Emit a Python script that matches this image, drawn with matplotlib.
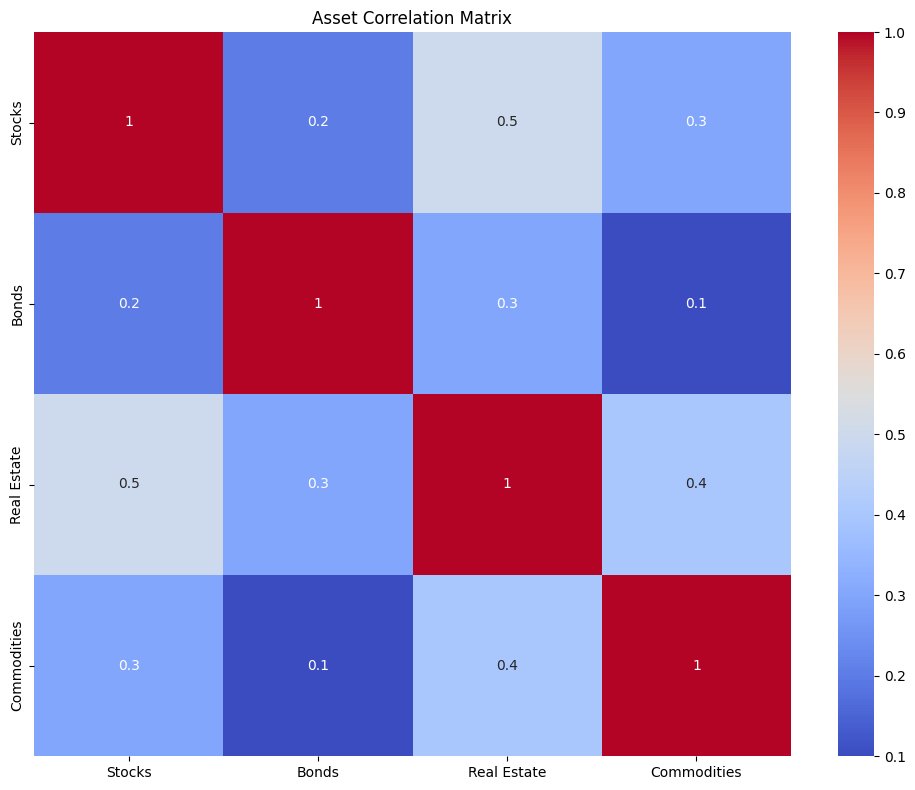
import matplotlib
matplotlib.use("Agg")
import matplotlib.pyplot as plt
import numpy as np
import pandas as pd
import seaborn as sns

# Asset names and correlation values
assets = ["Stocks", "Bonds", "Real Estate", "Commodities"]
stocks = [1.0, 0.2, 0.5, 0.3]
bonds = [0.2, 1.0, 0.3, 0.1]
real_estate = [0.5, 0.3, 1.0, 0.4]
commodities = [0.3, 0.1, 0.4, 1.0]

corr = pd.DataFrame(np.array([stocks, bonds, real_estate, commodities]),
                    index=assets, columns=assets)

W, H = 915, 790
fig = plt.figure(figsize=(W / 100, H / 100), dpi=100)
# place axes to match the reference layout (pixel boxes)
ax = fig.add_axes([34 / W, (H - 756) / H, 757 / W, 724 / H])
cax = fig.add_axes([838 / W, (H - 756) / H, 36 / W, 724 / H])

sns.heatmap(corr, annot=True, cmap="coolwarm", ax=ax, cbar_ax=cax)
ax.set_title("Asset Correlation Matrix")
fig.savefig("out.png", dpi=100)
